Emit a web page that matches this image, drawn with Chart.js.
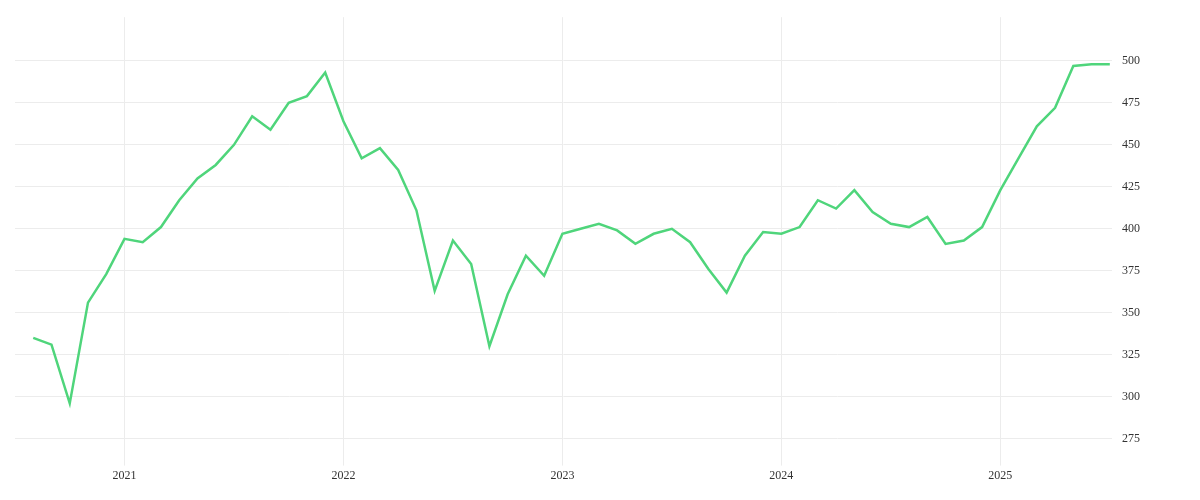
<!DOCTYPE html>
<html>
<head>
<meta charset="utf-8">
<script src="https://cdn.jsdelivr.net/npm/chart.js@4"></script>
<style>
  html, body { margin: 0; padding: 0; background: #fff; }
  #wrap { width: 1200px; height: 500px; }
</style>
</head>
<body>
<div id="wrap"><canvas id="chart"></canvas></div>
<script>
// monthly values, Aug 2020 .. Jul 2025
const startYear = 2020;
const startMonth = 7; // August (0-based)
const values = [
    335, 331, 296, 356, 373,
    394, 392, 401, 417, 430, 438, 450, 467, 459, 475, 479, 493,
    464, 442, 448, 435, 411, 363, 393, 379, 330, 361, 384, 372,
    397, 400, 403, 399, 391, 397, 400, 392, 376, 362, 384, 398,
    397, 401, 417, 412, 423, 410, 403, 401, 407, 391, 393, 401,
    423, 442, 461, 472, 497, 498, 498
];
const yearTicks = [2021, 2022, 2023, 2024, 2025];
const yTicks = [275, 300, 325, 350, 375, 400, 425, 450, 475, 500];

const points = values.map((v, i) => ({ x: startYear + (startMonth + i) / 12, y: v }));

new Chart(document.getElementById('chart'), {
    type: 'line',
    data: {
        datasets: [{
            data: points,
            borderColor: '#4fd57b',
            borderWidth: 2.5,
            pointRadius: 0,
            tension: 0,
            fill: false
        }]
    },
    options: {
        responsive: true,
        maintainAspectRatio: false,
        animation: false,
        layout: { padding: { left: 15, top: 13, right: 50, bottom: 14 } },
        plugins: { legend: { display: false }, tooltip: { enabled: false } },
        scales: {
            x: {
                type: 'linear',
                min: 2020.5,
                max: 2025.51,
                afterBuildTicks: axis => { axis.ticks = yearTicks.map(v => ({ value: v })); },
                grid: { color: '#ececec', drawTicks: true, tickLength: 6 },
                border: { display: false },
                ticks: {
                    color: '#333',
                    font: { family: 'Liberation Serif', size: 12 },
                    callback: v => String(v),
                    maxRotation: 0
                }
            },
            y: {
                position: 'right',
                min: 262.5,
                max: 526,
                afterBuildTicks: axis => { axis.ticks = yTicks.map(v => ({ value: v })); },
                grid: { color: '#ececec', drawTicks: false },
                border: { display: false },
                ticks: {
                    color: '#333',
                    padding: 10,
                    font: { family: 'Liberation Serif', size: 12 }
                }
            }
        }
    }
});
</script>
</body>
</html>
